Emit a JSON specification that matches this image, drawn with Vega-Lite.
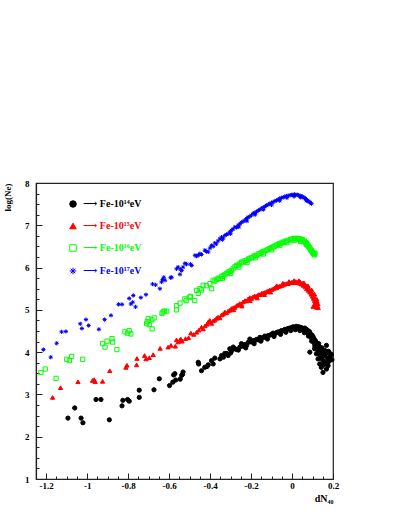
{
  "$schema": "https://vega.github.io/schema/vega-lite/v6.json",
  "width": 297,
  "height": 296,
  "autosize": "none",
  "padding": {"left": 36, "top": 183, "right": 66, "bottom": 37},
  "background": "white",
  "config": {"view": {"stroke": "#222222", "strokeWidth": 1.2}},
  "data": {"values": [
    {"s":"14","x":-1.094,"y":2.44},{"s":"14","x":-1.061,"y":2.68},{"s":"14","x":-1.030,"y":2.44},{"s":"14","x":-1.021,"y":2.33},
    {"s":"14","x":-0.957,"y":2.88},{"s":"14","x":-0.933,"y":2.88},{"s":"14","x":-0.892,"y":2.40},{"s":"14","x":-0.830,"y":2.73},
    {"s":"14","x":-0.826,"y":2.86},{"s":"14","x":-0.803,"y":2.88},{"s":"14","x":-0.795,"y":2.84},{"s":"14","x":-0.746,"y":2.93},
    {"s":"14","x":-0.746,"y":3.10},{"s":"14","x":-0.674,"y":3.11},{"s":"14","x":-0.648,"y":3.37},{"s":"14","x":-0.598,"y":3.21},
    {"s":"14","x":-0.582,"y":3.29},{"s":"14","x":-0.578,"y":3.46},{"s":"14","x":-0.572,"y":3.49},{"s":"14","x":-0.568,"y":3.34},
    {"s":"14","x":-0.546,"y":3.36},{"s":"14","x":-0.539,"y":3.45},{"s":"14","x":-0.534,"y":3.48},{"s":"14","x":-0.532,"y":3.53},
    {"s":"14","x":-0.458,"y":3.76},{"s":"14","x":-0.456,"y":3.72},{"s":"14","x":-0.442,"y":3.56},{"s":"14","x":-0.426,"y":3.64},
    {"s":"14","x":-0.415,"y":3.66},{"s":"14","x":-0.409,"y":3.70},{"s":"14","x":-0.393,"y":3.80},{"s":"14","x":-0.385,"y":3.72},
    {"s":"14","x":-0.377,"y":3.86},{"s":"14","x":-0.352,"y":3.84},{"s":"14","x":-0.344,"y":3.92},{"s":"14","x":-0.335,"y":3.88},
    {"s":"14","x":-0.328,"y":3.97},{"s":"14","x":-0.320,"y":3.97},{"s":"14","x":-0.312,"y":3.92},{"s":"14","x":-0.304,"y":4.08},
    {"s":"14","x":-0.296,"y":4.02},{"s":"14","x":-0.287,"y":4.12},{"s":"14","x":-0.279,"y":4.08},{"s":"14","x":-0.270,"y":4.06},
    {"s":"14","x":-0.255,"y":4.12},{"s":"14","x":-0.247,"y":4.20},{"s":"14","x":-0.239,"y":4.14},{"s":"14","x":-0.230,"y":4.18},
    {"s":"14","x":-0.222,"y":4.16},{"s":"14","x":-0.214,"y":4.23},{"s":"14","x":-0.206,"y":4.31},{"s":"14","x":-0.198,"y":4.24},
    {"s":"14","x":-0.190,"y":4.27},{"s":"14","x":-0.180,"y":4.28},{"s":"14","x":-0.173,"y":4.30},{"s":"14","x":-0.165,"y":4.29},
    {"s":"14","x":-0.157,"y":4.35},{"s":"14","x":-0.148,"y":4.33},{"s":"14","x":-0.141,"y":4.34},{"s":"14","x":-0.133,"y":4.38},
    {"s":"14","x":-0.125,"y":4.37},{"s":"14","x":-0.117,"y":4.39},{"s":"14","x":-0.109,"y":4.40},{"s":"14","x":-0.100,"y":4.42},
    {"s":"14","x":-0.092,"y":4.45},{"s":"14","x":-0.085,"y":4.43},{"s":"14","x":-0.076,"y":4.46},{"s":"14","x":-0.068,"y":4.48},
    {"s":"14","x":-0.060,"y":4.47},{"s":"14","x":-0.052,"y":4.51},{"s":"14","x":-0.043,"y":4.51},{"s":"14","x":-0.035,"y":4.54},
    {"s":"14","x":-0.027,"y":4.53},{"s":"14","x":-0.019,"y":4.56},{"s":"14","x":-0.010,"y":4.57},{"s":"14","x":-0.002,"y":4.58},
    {"s":"14","x":0.005,"y":4.60},{"s":"14","x":0.012,"y":4.58},{"s":"14","x":0.020,"y":4.61},{"s":"14","x":0.027,"y":4.59},
    {"s":"14","x":0.034,"y":4.60},{"s":"14","x":0.040,"y":4.56},{"s":"14","x":0.046,"y":4.58},{"s":"14","x":0.052,"y":4.55},
    {"s":"14","x":0.058,"y":4.53},{"s":"14","x":0.062,"y":4.57},{"s":"14","x":0.066,"y":4.50},{"s":"14","x":0.070,"y":4.54},
    {"s":"14","x":0.074,"y":4.47},{"s":"14","x":0.078,"y":4.51},{"s":"14","x":0.082,"y":4.44},{"s":"14","x":0.086,"y":4.48},
    {"s":"14","x":0.088,"y":4.38},{"s":"14","x":0.092,"y":4.42},{"s":"14","x":0.095,"y":4.33},{"s":"14","x":0.098,"y":4.40},
    {"s":"14","x":0.100,"y":4.28},{"s":"14","x":0.103,"y":4.36},{"s":"14","x":0.106,"y":4.24},{"s":"14","x":0.108,"y":4.31},
    {"s":"14","x":0.111,"y":4.18},{"s":"14","x":0.114,"y":4.27},{"s":"14","x":0.117,"y":4.12},{"s":"14","x":0.119,"y":3.96},
    {"s":"14","x":0.120,"y":4.22},{"s":"14","x":0.123,"y":4.06},{"s":"14","x":0.125,"y":4.17},{"s":"14","x":0.127,"y":3.84},
    {"s":"14","x":0.129,"y":4.00},{"s":"14","x":0.131,"y":4.10},{"s":"14","x":0.135,"y":3.72},{"s":"14","x":0.135,"y":4.12},
    {"s":"14","x":0.137,"y":3.92},{"s":"14","x":0.140,"y":4.05},{"s":"14","x":0.143,"y":3.64},{"s":"14","x":0.145,"y":3.85},
    {"s":"14","x":0.148,"y":3.98},{"s":"14","x":0.151,"y":3.52},{"s":"14","x":0.151,"y":3.80},{"s":"14","x":0.155,"y":3.70},
    {"s":"14","x":0.158,"y":3.92},{"s":"14","x":0.160,"y":4.04},{"s":"14","x":0.163,"y":3.76},{"s":"14","x":0.168,"y":3.60},
    {"s":"14","x":0.168,"y":4.16},{"s":"14","x":0.172,"y":3.86},{"s":"14","x":0.176,"y":3.68},{"s":"14","x":0.180,"y":3.78},
    {"s":"14","x":0.184,"y":3.88},{"s":"14","x":0.188,"y":3.96},{"s":"14","x":0.192,"y":3.94},{"s":"14","x":0.195,"y":3.82},
    {"s":"14","x":0.087,"y":4.00},{"s":"14","x":0.110,"y":4.08},
    {"s":"14","x":-0.300,"y":3.98},{"s":"14","x":-0.262,"y":4.05},{"s":"14","x":-0.226,"y":4.10},{"s":"14","x":-0.185,"y":4.20},
    {"s":"14","x":-0.152,"y":4.26},{"s":"14","x":-0.120,"y":4.31},{"s":"14","x":-0.088,"y":4.37},{"s":"14","x":-0.056,"y":4.42},
    {"s":"14","x":-0.030,"y":4.47},{"s":"14","x":-0.006,"y":4.51},{"s":"14","x":0.016,"y":4.53},{"s":"14","x":0.038,"y":4.51},
    {"s":"14","x":0.060,"y":4.46},{"s":"14","x":0.080,"y":4.38},{"s":"14","x":0.096,"y":4.26},{"s":"14","x":0.112,"y":4.14},
    {"s":"14","x":0.130,"y":4.20},{"s":"14","x":0.146,"y":4.10},{"s":"14","x":0.164,"y":3.96},{"s":"14","x":0.178,"y":4.02},

    {"s":"15","x":-1.169,"y":2.93},{"s":"15","x":-1.130,"y":3.16},{"s":"15","x":-1.045,"y":3.30},{"s":"15","x":-0.974,"y":3.33},
    {"s":"15","x":-0.966,"y":3.35},{"s":"15","x":-0.961,"y":3.30},{"s":"15","x":-0.925,"y":3.31},{"s":"15","x":-0.890,"y":3.56},
    {"s":"15","x":-0.811,"y":3.64},{"s":"15","x":-0.806,"y":3.69},{"s":"15","x":-0.759,"y":3.70},{"s":"15","x":-0.757,"y":3.85},
    {"s":"15","x":-0.720,"y":3.92},{"s":"15","x":-0.713,"y":3.84},{"s":"15","x":-0.697,"y":3.87},{"s":"15","x":-0.678,"y":3.94},
    {"s":"15","x":-0.644,"y":4.09},{"s":"15","x":-0.605,"y":4.12},{"s":"15","x":-0.591,"y":4.16},{"s":"15","x":-0.570,"y":4.14},
    {"s":"15","x":-0.564,"y":4.29},{"s":"15","x":-0.556,"y":4.24},{"s":"15","x":-0.548,"y":4.28},{"s":"15","x":-0.543,"y":4.31},
    {"s":"15","x":-0.537,"y":4.26},{"s":"15","x":-0.520,"y":4.32},{"s":"15","x":-0.505,"y":4.34},{"s":"15","x":-0.494,"y":4.45},
    {"s":"15","x":-0.480,"y":4.42},{"s":"15","x":-0.466,"y":4.47},{"s":"15","x":-0.455,"y":4.52},{"s":"15","x":-0.442,"y":4.59},
    {"s":"15","x":-0.434,"y":4.55},{"s":"15","x":-0.425,"y":4.62},{"s":"15","x":-0.415,"y":4.66},{"s":"15","x":-0.408,"y":4.72},
    {"s":"15","x":-0.401,"y":4.75},{"s":"15","x":-0.393,"y":4.68},{"s":"15","x":-0.385,"y":4.74},{"s":"15","x":-0.377,"y":4.76},
    {"s":"15","x":-0.369,"y":4.80},{"s":"15","x":-0.361,"y":4.83},{"s":"15","x":-0.352,"y":4.81},{"s":"15","x":-0.344,"y":4.88},
    {"s":"15","x":-0.336,"y":4.90},{"s":"15","x":-0.328,"y":4.95},{"s":"15","x":-0.320,"y":4.93},{"s":"15","x":-0.312,"y":4.97},
    {"s":"15","x":-0.304,"y":4.99},{"s":"15","x":-0.296,"y":5.03},{"s":"15","x":-0.287,"y":5.05},{"s":"15","x":-0.279,"y":5.06},
    {"s":"15","x":-0.271,"y":5.10},{"s":"15","x":-0.263,"y":5.12},{"s":"15","x":-0.255,"y":5.15},{"s":"15","x":-0.247,"y":5.14},
    {"s":"15","x":-0.239,"y":5.19},{"s":"15","x":-0.230,"y":5.22},{"s":"15","x":-0.222,"y":5.21},{"s":"15","x":-0.214,"y":5.26},
    {"s":"15","x":-0.206,"y":5.29},{"s":"15","x":-0.198,"y":5.27},{"s":"15","x":-0.190,"y":5.31},{"s":"15","x":-0.182,"y":5.33},
    {"s":"15","x":-0.173,"y":5.32},{"s":"15","x":-0.165,"y":5.36},{"s":"15","x":-0.157,"y":5.36},{"s":"15","x":-0.149,"y":5.39},
    {"s":"15","x":-0.141,"y":5.40},{"s":"15","x":-0.133,"y":5.41},{"s":"15","x":-0.125,"y":5.43},{"s":"15","x":-0.117,"y":5.45},
    {"s":"15","x":-0.109,"y":5.47},{"s":"15","x":-0.100,"y":5.48},{"s":"15","x":-0.092,"y":5.50},{"s":"15","x":-0.084,"y":5.52},
    {"s":"15","x":-0.076,"y":5.52},{"s":"15","x":-0.068,"y":5.55},{"s":"15","x":-0.060,"y":5.56},{"s":"15","x":-0.052,"y":5.57},
    {"s":"15","x":-0.043,"y":5.59},{"s":"15","x":-0.035,"y":5.61},{"s":"15","x":-0.027,"y":5.62},{"s":"15","x":-0.019,"y":5.62},
    {"s":"15","x":-0.010,"y":5.64},{"s":"15","x":-0.002,"y":5.65},{"s":"15","x":0.005,"y":5.66},{"s":"15","x":0.012,"y":5.64},
    {"s":"15","x":0.018,"y":5.67},{"s":"15","x":0.024,"y":5.65},{"s":"15","x":0.030,"y":5.66},{"s":"15","x":0.036,"y":5.63},
    {"s":"15","x":0.040,"y":5.66},{"s":"15","x":0.045,"y":5.61},{"s":"15","x":0.050,"y":5.63},{"s":"15","x":0.055,"y":5.58},
    {"s":"15","x":0.060,"y":5.60},{"s":"15","x":0.064,"y":5.54},{"s":"15","x":0.068,"y":5.57},{"s":"15","x":0.072,"y":5.50},
    {"s":"15","x":0.076,"y":5.53},{"s":"15","x":0.080,"y":5.46},{"s":"15","x":0.084,"y":5.49},{"s":"15","x":0.087,"y":5.42},
    {"s":"15","x":0.091,"y":5.45},{"s":"15","x":0.094,"y":5.37},{"s":"15","x":0.097,"y":5.40},{"s":"15","x":0.100,"y":5.32},
    {"s":"15","x":0.103,"y":5.35},{"s":"15","x":0.105,"y":5.27},{"s":"15","x":0.108,"y":5.30},{"s":"15","x":0.110,"y":5.22},
    {"s":"15","x":0.112,"y":5.25},{"s":"15","x":0.113,"y":5.15},{"s":"15","x":0.115,"y":5.19},{"s":"15","x":0.117,"y":5.10},
    {"s":"15","x":0.119,"y":5.14},{"s":"15","x":0.120,"y":5.06},{"s":"15","x":0.122,"y":5.20},{"s":"15","x":0.124,"y":5.09},
    {"s":"15","x":0.126,"y":5.14},{"s":"15","x":0.128,"y":5.05},{"s":"15","x":0.103,"y":5.08},
    {"s":"15","x":-0.285,"y":5.00},{"s":"15","x":-0.245,"y":5.09},{"s":"15","x":-0.205,"y":5.22},{"s":"15","x":-0.170,"y":5.28},
    {"s":"15","x":-0.135,"y":5.36},{"s":"15","x":-0.105,"y":5.42},{"s":"15","x":-0.075,"y":5.57},{"s":"15","x":-0.045,"y":5.63},
    {"s":"15","x":-0.015,"y":5.67},{"s":"15","x":0.010,"y":5.69},{"s":"15","x":0.034,"y":5.69},{"s":"15","x":0.058,"y":5.64},
    {"s":"15","x":0.078,"y":5.57},{"s":"15","x":0.096,"y":5.47},{"s":"15","x":0.110,"y":5.37},{"s":"15","x":0.121,"y":5.25},

    {"s":"16","x":-1.226,"y":3.52},{"s":"16","x":-1.205,"y":3.60},{"s":"16","x":-1.152,"y":3.38},{"s":"16","x":-1.100,"y":3.83},
    {"s":"16","x":-1.087,"y":3.80},{"s":"16","x":-1.076,"y":3.90},{"s":"16","x":-1.022,"y":3.83},{"s":"16","x":-0.925,"y":4.20},
    {"s":"16","x":-0.913,"y":4.12},{"s":"16","x":-0.903,"y":4.26},{"s":"16","x":-0.879,"y":4.32},{"s":"16","x":-0.876,"y":4.24},
    {"s":"16","x":-0.855,"y":4.06},{"s":"16","x":-0.816,"y":4.48},{"s":"16","x":-0.803,"y":4.45},{"s":"16","x":-0.795,"y":4.51},
    {"s":"16","x":-0.787,"y":4.43},{"s":"16","x":-0.710,"y":4.67},{"s":"16","x":-0.707,"y":4.72},{"s":"16","x":-0.702,"y":4.79},
    {"s":"16","x":-0.697,"y":4.65},{"s":"16","x":-0.684,"y":4.77},{"s":"16","x":-0.683,"y":4.55},{"s":"16","x":-0.673,"y":4.81},
    {"s":"16","x":-0.635,"y":4.92},{"s":"16","x":-0.629,"y":4.95},{"s":"16","x":-0.624,"y":4.97},{"s":"16","x":-0.612,"y":4.97},
    {"s":"16","x":-0.564,"y":5.10},{"s":"16","x":-0.564,"y":5.00},{"s":"16","x":-0.547,"y":5.16},{"s":"16","x":-0.523,"y":5.26},
    {"s":"16","x":-0.517,"y":5.22},{"s":"16","x":-0.499,"y":5.30},{"s":"16","x":-0.496,"y":5.32},{"s":"16","x":-0.475,"y":5.22},
    {"s":"16","x":-0.466,"y":5.46},{"s":"16","x":-0.458,"y":5.39},{"s":"16","x":-0.450,"y":5.50},{"s":"16","x":-0.442,"y":5.47},
    {"s":"16","x":-0.434,"y":5.58},{"s":"16","x":-0.418,"y":5.57},{"s":"16","x":-0.401,"y":5.62},{"s":"16","x":-0.393,"y":5.50},
    {"s":"16","x":-0.385,"y":5.70},{"s":"16","x":-0.377,"y":5.68},{"s":"16","x":-0.368,"y":5.72},{"s":"16","x":-0.360,"y":5.75},
    {"s":"16","x":-0.352,"y":5.74},{"s":"16","x":-0.344,"y":5.79},{"s":"16","x":-0.336,"y":5.81},{"s":"16","x":-0.328,"y":5.83},
    {"s":"16","x":-0.320,"y":5.86},{"s":"16","x":-0.312,"y":5.89},{"s":"16","x":-0.304,"y":5.91},{"s":"16","x":-0.296,"y":5.93},
    {"s":"16","x":-0.288,"y":5.97},{"s":"16","x":-0.279,"y":6.02},{"s":"16","x":-0.271,"y":6.05},{"s":"16","x":-0.263,"y":6.06},
    {"s":"16","x":-0.255,"y":6.09},{"s":"16","x":-0.247,"y":6.13},{"s":"16","x":-0.239,"y":6.13},{"s":"16","x":-0.230,"y":6.16},
    {"s":"16","x":-0.222,"y":6.17},{"s":"16","x":-0.214,"y":6.20},{"s":"16","x":-0.206,"y":6.22},{"s":"16","x":-0.198,"y":6.23},
    {"s":"16","x":-0.190,"y":6.25},{"s":"16","x":-0.182,"y":6.28},{"s":"16","x":-0.173,"y":6.29},{"s":"16","x":-0.165,"y":6.32},
    {"s":"16","x":-0.157,"y":6.33},{"s":"16","x":-0.149,"y":6.36},{"s":"16","x":-0.141,"y":6.37},{"s":"16","x":-0.133,"y":6.39},
    {"s":"16","x":-0.125,"y":6.41},{"s":"16","x":-0.117,"y":6.43},{"s":"16","x":-0.109,"y":6.45},{"s":"16","x":-0.100,"y":6.47},
    {"s":"16","x":-0.092,"y":6.49},{"s":"16","x":-0.084,"y":6.51},{"s":"16","x":-0.076,"y":6.53},{"s":"16","x":-0.068,"y":6.55},
    {"s":"16","x":-0.060,"y":6.57},{"s":"16","x":-0.052,"y":6.58},{"s":"16","x":-0.043,"y":6.60},{"s":"16","x":-0.035,"y":6.61},
    {"s":"16","x":-0.027,"y":6.63},{"s":"16","x":-0.019,"y":6.64},{"s":"16","x":-0.010,"y":6.66},{"s":"16","x":-0.002,"y":6.67},
    {"s":"16","x":0.005,"y":6.68},{"s":"16","x":0.012,"y":6.69},{"s":"16","x":0.019,"y":6.68},{"s":"16","x":0.026,"y":6.69},
    {"s":"16","x":0.032,"y":6.67},{"s":"16","x":0.038,"y":6.68},{"s":"16","x":0.044,"y":6.65},{"s":"16","x":0.050,"y":6.66},
    {"s":"16","x":0.055,"y":6.62},{"s":"16","x":0.060,"y":6.63},{"s":"16","x":0.065,"y":6.59},{"s":"16","x":0.070,"y":6.58},
    {"s":"16","x":0.074,"y":6.54},{"s":"16","x":0.078,"y":6.53},{"s":"16","x":0.082,"y":6.49},{"s":"16","x":0.086,"y":6.47},
    {"s":"16","x":0.090,"y":6.43},{"s":"16","x":0.094,"y":6.41},{"s":"16","x":0.098,"y":6.37},{"s":"16","x":0.101,"y":6.36},
    {"s":"16","x":0.104,"y":6.33},{"s":"16","x":0.107,"y":6.32},{"s":"16","x":0.110,"y":6.30},{"s":"16","x":0.112,"y":6.34},
    {"s":"16","x":-0.340,"y":5.74},{"s":"16","x":-0.300,"y":5.86},{"s":"16","x":-0.260,"y":6.01},{"s":"16","x":-0.220,"y":6.12},
    {"s":"16","x":-0.180,"y":6.23},{"s":"16","x":-0.140,"y":6.32},{"s":"16","x":-0.100,"y":6.42},{"s":"16","x":-0.060,"y":6.52},
    {"s":"16","x":-0.025,"y":6.59},{"s":"16","x":0.010,"y":6.64},{"s":"16","x":0.042,"y":6.62},{"s":"16","x":0.070,"y":6.54},

    {"s":"17","x":-1.214,"y":4.06},{"s":"17","x":-1.178,"y":3.88},{"s":"17","x":-1.149,"y":4.21},{"s":"17","x":-1.125,"y":4.48},
    {"s":"17","x":-1.104,"y":4.49},{"s":"17","x":-1.034,"y":4.67},{"s":"17","x":-1.026,"y":4.56},{"s":"17","x":-1.006,"y":4.77},
    {"s":"17","x":-0.993,"y":4.63},{"s":"17","x":-0.943,"y":4.54},{"s":"17","x":-0.915,"y":4.77},{"s":"17","x":-0.884,"y":4.87},
    {"s":"17","x":-0.847,"y":5.13},{"s":"17","x":-0.830,"y":5.13},{"s":"17","x":-0.795,"y":5.27},{"s":"17","x":-0.787,"y":5.14},
    {"s":"17","x":-0.778,"y":5.18},{"s":"17","x":-0.775,"y":5.34},{"s":"17","x":-0.764,"y":5.07},{"s":"17","x":-0.738,"y":5.29},
    {"s":"17","x":-0.713,"y":5.36},{"s":"17","x":-0.681,"y":5.61},{"s":"17","x":-0.666,"y":5.59},{"s":"17","x":-0.645,"y":5.50},
    {"s":"17","x":-0.637,"y":5.66},{"s":"17","x":-0.632,"y":5.72},{"s":"17","x":-0.626,"y":5.77},{"s":"17","x":-0.620,"y":5.70},
    {"s":"17","x":-0.593,"y":5.76},{"s":"17","x":-0.588,"y":5.77},{"s":"17","x":-0.564,"y":5.97},{"s":"17","x":-0.556,"y":6.01},
    {"s":"17","x":-0.547,"y":5.84},{"s":"17","x":-0.544,"y":5.96},{"s":"17","x":-0.539,"y":5.93},{"s":"17","x":-0.532,"y":6.01},
    {"s":"17","x":-0.523,"y":6.10},{"s":"17","x":-0.515,"y":6.08},{"s":"17","x":-0.496,"y":6.08},{"s":"17","x":-0.490,"y":6.05},
    {"s":"17","x":-0.474,"y":6.29},{"s":"17","x":-0.466,"y":6.27},{"s":"17","x":-0.458,"y":6.29},{"s":"17","x":-0.450,"y":6.33},
    {"s":"17","x":-0.442,"y":6.31},{"s":"17","x":-0.426,"y":6.41},{"s":"17","x":-0.418,"y":6.38},{"s":"17","x":-0.409,"y":6.37},
    {"s":"17","x":-0.401,"y":6.46},{"s":"17","x":-0.393,"y":6.52},{"s":"17","x":-0.385,"y":6.50},{"s":"17","x":-0.377,"y":6.58},
    {"s":"17","x":-0.369,"y":6.56},{"s":"17","x":-0.361,"y":6.63},{"s":"17","x":-0.352,"y":6.68},{"s":"17","x":-0.344,"y":6.72},
    {"s":"17","x":-0.336,"y":6.70},{"s":"17","x":-0.328,"y":6.76},{"s":"17","x":-0.320,"y":6.78},{"s":"17","x":-0.312,"y":6.80},
    {"s":"17","x":-0.304,"y":6.84},{"s":"17","x":-0.296,"y":6.88},{"s":"17","x":-0.288,"y":6.91},{"s":"17","x":-0.279,"y":6.96},
    {"s":"17","x":-0.271,"y":6.95},{"s":"17","x":-0.263,"y":7.00},{"s":"17","x":-0.255,"y":7.03},{"s":"17","x":-0.247,"y":7.07},
    {"s":"17","x":-0.239,"y":7.09},{"s":"17","x":-0.230,"y":7.12},{"s":"17","x":-0.222,"y":7.16},{"s":"17","x":-0.214,"y":7.19},
    {"s":"17","x":-0.206,"y":7.21},{"s":"17","x":-0.198,"y":7.24},{"s":"17","x":-0.190,"y":7.28},{"s":"17","x":-0.182,"y":7.30},
    {"s":"17","x":-0.173,"y":7.32},{"s":"17","x":-0.165,"y":7.35},{"s":"17","x":-0.157,"y":7.37},{"s":"17","x":-0.149,"y":7.40},
    {"s":"17","x":-0.141,"y":7.42},{"s":"17","x":-0.133,"y":7.44},{"s":"17","x":-0.125,"y":7.47},{"s":"17","x":-0.117,"y":7.49},
    {"s":"17","x":-0.109,"y":7.51},{"s":"17","x":-0.100,"y":7.53},{"s":"17","x":-0.092,"y":7.55},{"s":"17","x":-0.084,"y":7.57},
    {"s":"17","x":-0.076,"y":7.59},{"s":"17","x":-0.068,"y":7.61},{"s":"17","x":-0.060,"y":7.63},{"s":"17","x":-0.052,"y":7.65},
    {"s":"17","x":-0.043,"y":7.66},{"s":"17","x":-0.035,"y":7.68},{"s":"17","x":-0.027,"y":7.69},{"s":"17","x":-0.019,"y":7.70},
    {"s":"17","x":-0.010,"y":7.71},{"s":"17","x":-0.002,"y":7.72},{"s":"17","x":0.005,"y":7.72},{"s":"17","x":0.012,"y":7.73},
    {"s":"17","x":0.019,"y":7.72},{"s":"17","x":0.026,"y":7.72},{"s":"17","x":0.032,"y":7.71},{"s":"17","x":0.038,"y":7.70},
    {"s":"17","x":0.044,"y":7.69},{"s":"17","x":0.050,"y":7.68},{"s":"17","x":0.055,"y":7.66},{"s":"17","x":0.060,"y":7.65},
    {"s":"17","x":0.065,"y":7.63},{"s":"17","x":0.070,"y":7.61},{"s":"17","x":0.075,"y":7.59},{"s":"17","x":0.080,"y":7.57},
    {"s":"17","x":0.085,"y":7.55},{"s":"17","x":0.090,"y":7.53},{"s":"17","x":0.095,"y":7.51},
    {"s":"17","x":-0.340,"y":6.66},{"s":"17","x":-0.300,"y":6.80},{"s":"17","x":-0.260,"y":6.96},{"s":"17","x":-0.220,"y":7.10},
    {"s":"17","x":-0.180,"y":7.25},{"s":"17","x":-0.140,"y":7.37},{"s":"17","x":-0.100,"y":7.48},{"s":"17","x":-0.060,"y":7.58},
    {"s":"17","x":-0.025,"y":7.65},{"s":"17","x":0.010,"y":7.68},{"s":"17","x":0.042,"y":7.66},{"s":"17","x":0.070,"y":7.58}
  ]},
  "mark": {"type": "point", "strokeWidth": 1, "opacity": 1},
  "encoding": {
    "x": {
      "field": "x", "type": "quantitative",
      "scale": {"domain": [-1.25, 0.2], "nice": false, "zero": false},
      "axis": {
        "values": [-1.25,-1.2,-1.15,-1.1,-1.05,-1,-0.95,-0.9,-0.85,-0.8,-0.75,-0.7,-0.65,-0.6,-0.55,-0.5,-0.45,-0.4,-0.35,-0.3,-0.25,-0.2,-0.15,-0.1,-0.05,0,0.05,0.1,0.15,0.2],
        "labelExpr": "abs(datum.value*5 - round(datum.value*5)) < 0.001 ? (datum.value < 0 ? '-' + format(-datum.value, '~g') : format(datum.value, '~g')) : ''",
        "tickSize": {"condition": {"test": "abs(datum.value*5 - round(datum.value*5)) < 0.001", "value": -6}, "value": -3},
        "labelPadding": 8,
        "grid": false,
        "domainColor": "#222222", "domainWidth": 1.2, "tickColor": "#222222",
        "labelFont": "Liberation Serif", "labelFontWeight": "bold", "labelFontSize": 9, "labelColor": "#000000",
        "labelFlush": false, "labelOverlap": false,
        "title": "dN₄₀", "titleAnchor": "end", "titleFont": "Liberation Serif", "titleFontWeight": "bold",
        "titleFontSize": 10, "titleColor": "#000000", "titlePadding": 0
      }
    },
    "y": {
      "field": "y", "type": "quantitative",
      "scale": {"domain": [1, 8], "nice": false, "zero": false},
      "axis": {
        "values": [1,1.25,1.5,1.75,2,2.25,2.5,2.75,3,3.25,3.5,3.75,4,4.25,4.5,4.75,5,5.25,5.5,5.75,6,6.25,6.5,6.75,7,7.25,7.5,7.75,8],
        "labelExpr": "abs(datum.value - round(datum.value)) < 0.001 ? format(datum.value, '~g') : ''",
        "tickSize": {"condition": {"test": "abs(datum.value - round(datum.value)) < 0.001", "value": -6}, "value": -3},
        "labelPadding": 13,
        "grid": false,
        "domainColor": "#222222", "domainWidth": 1.2, "tickColor": "#222222",
        "labelFont": "Liberation Serif", "labelFontWeight": "bold", "labelFontSize": 9, "labelColor": "#000000",
        "labelFlush": false, "labelOverlap": false,
        "title": "log(Ne)", "titleAnchor": "end", "titleFont": "Liberation Serif", "titleFontWeight": "bold",
        "titleFontSize": 9, "titleColor": "#000000", "titlePadding": 12
      }
    },
    "shape": {
      "field": "s", "type": "nominal",
      "scale": {"domain": ["14","15","16","17"], "range": ["circle", "triangle-up", "square", "M-1,0H1M0,-1V1M-0.7,-0.7L0.7,0.7M-0.7,0.7L0.7,-0.7"]},
      "legend": {
        "orient": "none", "legendX": 32, "legendY": 16, "direction": "vertical", "title": null,
        "symbolSize": 42, "symbolStrokeWidth": 1, "rowPadding": 11, "labelOffset": 5,
        "labelFont": "Liberation Serif, DejaVu Serif", "labelFontWeight": "bold", "labelFontSize": 10,
        "labelColor": {"expr": "datum.value == '14' ? '#000000' : datum.value == '15' ? '#ff0000' : datum.value == '16' ? '#00ff00' : '#0000ff'"},
        "labelExpr": "'⟶ Fe-10' + (datum.value == '14' ? '¹⁴' : datum.value == '15' ? '¹⁵' : datum.value == '16' ? '¹⁶' : '¹⁷') + 'eV'"
      }
    },
    "stroke": {
      "field": "s", "type": "nominal",
      "scale": {"domain": ["14","15","16","17"], "range": ["#000000", "#ff0000", "#00ff00", "#0000ff"]}
    },
    "fill": {
      "field": "s", "type": "nominal",
      "scale": {"domain": ["14","15","16","17"], "range": ["#000000", "#ff0000", "transparent", "#0000ff"]}
    },
    "size": {"value": 18}
  }
}
